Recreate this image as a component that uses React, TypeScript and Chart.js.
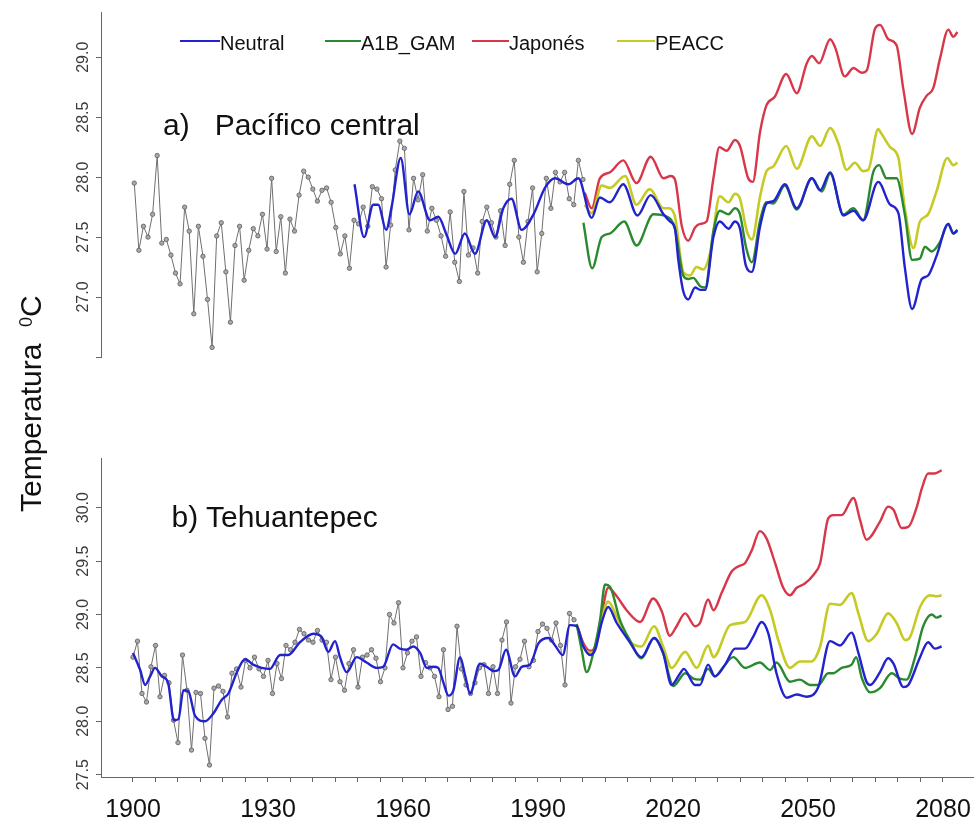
import React, { useEffect, useRef } from "react";
import { Chart, registerables } from "chart.js";

Chart.register(...registerables);

const FONT = '"Liberation Sans", Arial, Helvetica, sans-serif';

// ---------- data ----------
const OBS_FIRST_YEAR = 1900;

// a) Pacífico central – observed annual values 1900..1998
const OBS_A = [
  27.95, 27.39, 27.59, 27.5, 27.69, 28.18, 27.45, 27.48, 27.35, 27.2,
  27.11, 27.75, 27.55, 26.86, 27.59, 27.34, 26.98, 26.58, 27.51, 27.62,
  27.21, 26.79, 27.43, 27.59, 27.14, 27.39, 27.57, 27.51, 27.69, 27.4,
  27.99, 27.38, 27.67, 27.2, 27.65, 27.55, 27.85, 28.05, 28.0, 27.9,
  27.8, 27.89, 27.91, 27.79, 27.58, 27.36, 27.51, 27.24, 27.64, 27.61,
  27.75, 27.59, 27.92, 27.9, 27.82, 27.25, 27.6, 28.06, 28.3, 28.24,
  27.56, 27.99, 27.81, 28.02, 27.55, 27.74, 27.64, 27.51, 27.34, 27.71,
  27.29, 27.13, 27.88, 27.35, 27.41, 27.2, 27.63, 27.75, 27.62, 27.5,
  27.72, 27.43, 27.94, 28.14, 27.5, 27.29, 27.63, 27.91, 27.21, 27.53,
  27.99, 27.74, 28.04, 27.96, 28.04, 27.82, 27.77, 28.14, 27.98,
];

const NEUTRAL_A: [number, number][] = [
  [1948.1, 27.94], [1950.2, 27.5], [1952.2, 27.77], [1953.3, 27.77], [1955.0, 27.56],
  [1956.2, 27.75], [1958.2, 28.16], [1960.1, 27.69], [1962.0, 27.88], [1964.6, 27.64],
  [1966.4, 27.67], [1968.2, 27.52], [1970.1, 27.36], [1972.2, 27.53], [1974.4, 27.36],
  [1977.0, 27.64], [1978.8, 27.5], [1980.6, 27.74], [1982.4, 27.82], [1984.6, 27.56],
  [1987.2, 27.69], [1989.7, 27.91], [1991.9, 27.99], [1994.8, 27.94], [1997.0, 27.99],
  [1999.9, 27.66], [2001.7, 27.83], [2003.9, 27.79], [2006.8, 27.94], [2009.9, 27.68],
  [2012.8, 27.85], [2015.6, 27.69], [2017.0, 27.63], [2018.1, 27.57], [2018.8, 27.32],
  [2019.9, 27.05], [2021.0, 26.98], [2022.5, 27.08], [2023.6, 27.06], [2024.7, 27.06],
  [2026.5, 27.5], [2027.9, 27.63], [2029.8, 27.57], [2031.2, 27.63], [2032.3, 27.57],
  [2033.6, 27.26], [2034.9, 27.21], [2036.7, 27.59], [2038.1, 27.78], [2039.6, 27.8],
  [2042.1, 27.94], [2044.7, 27.74], [2048.0, 27.99], [2049.8, 27.89], [2052.0, 28.04],
  [2054.9, 27.68], [2057.1, 27.72], [2059.2, 27.64], [2062.5, 27.96], [2065.1, 27.77],
  [2066.9, 27.7], [2068.3, 27.25], [2069.9, 26.9], [2072.0, 27.15], [2073.4, 27.18],
  [2075.3, 27.35], [2077.8, 27.61], [2078.9, 27.53], [2079.8, 27.56],
];

const A1B_A: [number, number][] = [
  [1998.1, 27.62], [2000.0, 27.24], [2002.1, 27.5], [2003.9, 27.53], [2007.0, 27.63],
  [2009.7, 27.43], [2013.4, 27.69], [2016.4, 27.67], [2018.1, 27.57], [2019.9, 27.18],
  [2021.0, 27.15], [2022.1, 27.16], [2023.6, 27.09], [2024.7, 27.08], [2026.5, 27.55],
  [2027.9, 27.72], [2029.8, 27.69], [2031.2, 27.74], [2032.3, 27.69], [2033.6, 27.42],
  [2034.9, 27.29], [2036.7, 27.64], [2038.1, 27.79], [2039.6, 27.78], [2042.1, 27.93],
  [2044.7, 27.73], [2048.0, 27.99], [2050.2, 27.88], [2052.0, 28.03], [2054.9, 27.69],
  [2057.1, 27.74], [2059.2, 27.64], [2061.4, 28.04], [2062.7, 28.1], [2064.3, 27.99],
  [2066.5, 27.99], [2068.3, 27.69], [2069.9, 27.31], [2071.6, 27.32], [2072.7, 27.42],
  [2074.2, 27.38], [2076.0, 27.46], [2077.8, 27.61], [2078.9, 27.53], [2079.8, 27.55],
];

const JAPONES_A: [number, number][] = [
  [1998.4, 27.87], [1999.9, 27.74], [2001.7, 27.99], [2003.9, 28.04], [2006.8, 28.14],
  [2009.7, 27.95], [2012.8, 28.17], [2015.6, 27.99], [2017.2, 28.01], [2018.1, 27.98],
  [2019.6, 27.59], [2021.0, 27.47], [2022.5, 27.58], [2023.6, 27.61], [2025.0, 27.63],
  [2026.5, 27.99], [2027.8, 28.25], [2029.4, 28.22], [2031.2, 28.31], [2032.3, 28.26],
  [2034.1, 27.99], [2035.1, 27.96], [2036.7, 28.38], [2038.1, 28.6], [2039.9, 28.67],
  [2042.4, 28.86], [2044.7, 28.7], [2046.9, 28.95], [2048.0, 29.01], [2049.6, 28.95],
  [2052.0, 29.15], [2053.1, 29.08], [2055.2, 28.84], [2057.1, 28.91], [2058.9, 28.87],
  [2060.0, 28.89], [2061.8, 29.24], [2062.9, 29.27], [2064.7, 29.15], [2066.5, 29.1],
  [2068.0, 28.73], [2069.9, 28.36], [2071.6, 28.58], [2073.1, 28.68], [2074.5, 28.74],
  [2076.0, 28.99], [2077.8, 29.23], [2078.9, 29.17], [2079.8, 29.21],
];

const PEACC_A: [number, number][] = [
  [1998.4, 27.77], [1999.9, 27.7], [2002.1, 27.93], [2003.9, 27.91], [2007.2, 28.01],
  [2009.7, 27.77], [2012.6, 27.9], [2015.6, 27.74], [2016.6, 27.74], [2018.1, 27.67],
  [2019.9, 27.21], [2021.4, 27.18], [2022.8, 27.25], [2024.3, 27.23], [2025.8, 27.37],
  [2027.9, 27.84], [2029.8, 27.79], [2031.2, 27.86], [2032.3, 27.82], [2033.8, 27.55],
  [2034.9, 27.48], [2036.7, 27.84], [2038.1, 28.05], [2039.6, 28.09], [2042.4, 28.26],
  [2044.7, 28.07], [2048.0, 28.34], [2049.8, 28.26], [2052.0, 28.41], [2053.8, 28.28],
  [2055.6, 28.06], [2057.4, 28.12], [2059.2, 28.05], [2060.3, 28.06], [2062.5, 28.4],
  [2062.9, 28.38], [2065.1, 28.25], [2066.9, 28.16], [2068.3, 27.74], [2070.2, 27.41],
  [2071.6, 27.63], [2073.4, 27.69], [2075.3, 27.89], [2077.6, 28.16], [2078.9, 28.1],
  [2079.8, 28.12],
];

// b) Tehuantepec – observed annual values 1900..1998
const OBS_B = [
  28.6, 28.75, 28.26, 28.18, 28.51, 28.71, 28.23, 28.43, 28.36, 28.01,
  27.8, 28.62, 28.29, 27.73, 28.27, 28.26, 27.84, 27.59, 28.31, 28.33,
  28.28, 28.04, 28.45, 28.49, 28.32, 28.57, 28.5, 28.6, 28.49, 28.42,
  28.57, 28.26, 28.54, 28.4, 28.71, 28.67, 28.74, 28.86, 28.82, 28.76,
  28.74, 28.85, 28.76, 28.74, 28.39, 28.6, 28.37, 28.29, 28.54, 28.67,
  28.32, 28.6, 28.62, 28.67, 28.59, 28.37, 28.5, 29.0, 28.92, 29.11,
  28.5, 28.64, 28.75, 28.79, 28.42, 28.55, 28.5, 28.42, 28.23, 28.67,
  28.11, 28.14, 28.89, 28.49, 28.34, 28.26, 28.36, 28.5, 28.53, 28.26,
  28.51, 28.26, 28.76, 28.93, 28.17, 28.51, 28.58, 28.75, 28.51, 28.57,
  28.84, 28.91, 28.87, 28.76, 28.92, 28.71, 28.34, 29.01, 28.95,
];

const NEUTRAL_B: [number, number][] = [
  [1900.0, 28.64], [1901.6, 28.48], [1902.7, 28.34], [1903.8, 28.42], [1904.9, 28.5],
  [1906.4, 28.42], [1907.8, 28.36], [1909.1, 28.01], [1910.1, 28.02], [1911.2, 28.29],
  [1912.3, 28.28], [1913.8, 28.05], [1916.0, 28.0], [1917.8, 28.07], [1919.7, 28.2],
  [1921.2, 28.26], [1923.0, 28.45], [1924.9, 28.58], [1926.7, 28.53], [1928.6, 28.5],
  [1930.4, 28.49], [1932.7, 28.62], [1934.5, 28.62], [1937.1, 28.74], [1940.1, 28.82],
  [1941.9, 28.79], [1943.4, 28.65], [1944.9, 28.75], [1946.0, 28.6], [1947.5, 28.46],
  [1949.7, 28.6], [1951.9, 28.55], [1954.2, 28.5], [1955.6, 28.51], [1957.8, 28.72],
  [1959.3, 28.68], [1960.8, 28.67], [1962.3, 28.7], [1963.8, 28.64], [1965.3, 28.5],
  [1966.7, 28.51], [1967.8, 28.5], [1969.0, 28.36], [1970.1, 28.24], [1971.2, 28.29],
  [1972.7, 28.6], [1973.8, 28.43], [1974.9, 28.26], [1977.1, 28.54], [1978.6, 28.51],
  [1980.1, 28.47], [1981.2, 28.48], [1982.9, 28.67], [1984.9, 28.42], [1986.4, 28.51],
  [1988.2, 28.53], [1990.1, 28.73], [1992.3, 28.78], [1993.8, 28.71], [1995.5, 28.62],
  [1997.1, 28.9], [1998.6, 28.89], [2000.1, 28.7], [2001.6, 28.62], [2002.7, 28.67],
  [2004.2, 28.93], [2005.6, 29.07], [2007.5, 28.92], [2010.1, 28.76], [2013.0, 28.6],
  [2015.8, 28.78], [2017.8, 28.64], [2019.7, 28.34], [2021.6, 28.45], [2022.4, 28.49],
  [2024.9, 28.34], [2026.0, 28.34], [2027.8, 28.53], [2029.3, 28.42], [2031.6, 28.53],
  [2033.8, 28.68], [2036.0, 28.68], [2037.8, 28.79], [2039.7, 28.93], [2041.2, 28.82],
  [2043.0, 28.45], [2045.3, 28.22], [2047.5, 28.25], [2049.7, 28.23], [2052.3, 28.32],
  [2054.9, 28.75], [2057.1, 28.71], [2059.7, 28.83], [2061.2, 28.64], [2063.0, 28.37],
  [2063.8, 28.34], [2066.0, 28.46], [2067.8, 28.59], [2069.0, 28.54], [2071.2, 28.32],
  [2072.3, 28.34], [2074.9, 28.6], [2076.7, 28.74], [2078.2, 28.68], [2079.7, 28.7],
];

const A1B_B: [number, number][] = [
  [1998.6, 28.91], [1999.7, 28.67], [2000.8, 28.46], [2002.3, 28.64], [2003.8, 28.95],
  [2004.9, 29.28], [2006.0, 29.26], [2008.2, 28.95], [2010.4, 28.76], [2013.0, 28.59],
  [2015.8, 28.78], [2017.8, 28.64], [2020.1, 28.33], [2022.7, 28.45], [2024.5, 28.4],
  [2026.0, 28.39], [2027.8, 28.49], [2029.3, 28.42], [2031.2, 28.51], [2033.4, 28.6],
  [2036.0, 28.5], [2039.3, 28.55], [2041.6, 28.48], [2043.0, 28.55], [2046.0, 28.37],
  [2048.2, 28.39], [2050.4, 28.34], [2052.3, 28.34], [2054.5, 28.45], [2055.6, 28.45],
  [2057.5, 28.5], [2059.7, 28.53], [2060.7, 28.6], [2062.0, 28.4], [2063.8, 28.27],
  [2066.0, 28.31], [2068.6, 28.45], [2070.4, 28.4], [2071.9, 28.39], [2073.8, 28.6],
  [2075.6, 28.89], [2077.5, 29.0], [2078.6, 28.97], [2079.7, 28.99],
];

const JAPONES_B: [number, number][] = [
  [1998.6, 28.91], [2000.1, 28.73], [2001.6, 28.66], [2002.7, 28.7], [2004.2, 29.01],
  [2005.6, 29.25], [2007.5, 29.17], [2009.7, 29.04], [2012.7, 28.93], [2015.6, 29.15],
  [2017.5, 29.03], [2019.3, 28.8], [2020.8, 28.89], [2022.7, 29.01], [2024.9, 28.89],
  [2026.0, 28.92], [2027.8, 29.14], [2029.0, 29.04], [2030.8, 29.2], [2033.0, 29.4],
  [2034.5, 29.45], [2036.0, 29.48], [2037.5, 29.6], [2039.3, 29.78], [2040.8, 29.71],
  [2042.7, 29.48], [2044.5, 29.25], [2046.0, 29.18], [2047.5, 29.25], [2049.3, 29.29],
  [2051.2, 29.37], [2052.7, 29.48], [2054.5, 29.9], [2055.6, 29.93], [2057.5, 29.93],
  [2060.1, 30.09], [2061.6, 29.88], [2063.0, 29.7], [2066.0, 29.87], [2067.8, 30.01],
  [2069.0, 29.98], [2070.8, 29.81], [2072.3, 29.82], [2074.2, 30.01], [2075.3, 30.18],
  [2076.7, 30.32], [2078.2, 30.32], [2079.7, 30.35],
];

const PEACC_B: [number, number][] = [
  [1998.6, 28.9], [2000.1, 28.7], [2001.6, 28.64], [2002.7, 28.67], [2004.2, 28.96],
  [2005.6, 29.12], [2007.5, 28.98], [2010.1, 28.76], [2013.0, 28.7], [2015.8, 28.89],
  [2017.8, 28.7], [2019.7, 28.5], [2022.7, 28.65], [2025.3, 28.5], [2027.8, 28.71],
  [2029.0, 28.6], [2032.7, 28.9], [2036.0, 28.93], [2039.7, 29.18], [2041.6, 29.04],
  [2043.4, 28.76], [2046.0, 28.5], [2048.2, 28.56], [2050.8, 28.56], [2052.7, 28.7],
  [2054.9, 29.1], [2057.1, 29.09], [2059.7, 29.2], [2061.2, 29.01], [2063.4, 28.75],
  [2065.3, 28.82], [2067.8, 29.01], [2069.7, 28.92], [2071.6, 28.76], [2072.7, 28.79],
  [2074.9, 29.07], [2077.1, 29.18], [2078.6, 29.17], [2079.7, 29.18],
];

const SERIES_NAMES = ["Neutral", "A1B_GAM", "Japonés", "PEACC"];
const SERIES_COLORS = ["#2222cf", "#2b8a2f", "#d8374a", "#c6ca25"];

const Y_TICKS_A = [26.5, 27.0, 27.5, 28.0, 28.5, 29.0];
const Y_UNLABELLED_A = [26.5];
const Y_TICKS_B = [27.5, 28.0, 28.5, 29.0, 29.5, 30.0];
const X_LABEL_YEARS = [1900, 1930, 1960, 1990, 2020, 2050, 2080];
const X_MINOR_STEP = 5;

const PANEL_TITLES = ["a)   Pacífico central", "b) Tehuantepec"];
const AXIS_TITLE = "Temperatura";
const AXIS_UNIT_SUP = "0";
const AXIS_UNIT = "C";

// ---------- chart building ----------
type Pairs = [number, number][];
interface PanelDef {
  obs: number[];
  neutral: Pairs;
  a1b: Pairs;
  jap: Pairs;
  peacc: Pairs;
  xMin: number;
  xMax: number;
  yMin: number;
  yMax: number;
  yTicks: number[];
  yUnlabelled: number[];
  showX: boolean;
  padding: { left: number; right: number; top: number; bottom: number };
}

function makeConfig(p: PanelDef): any {
  const toXY = (arr: Pairs) => arr.map(([x, y]) => ({ x, y }));
  const smooth = (data: any[], color: string, width: number) => ({
    data,
    borderColor: color,
    backgroundColor: color,
    borderWidth: width,
    pointRadius: 0,
    cubicInterpolationMode: "monotone",
    fill: false,
  });
  const obs = p.obs.map((v, i) => ({ x: OBS_FIRST_YEAR + i, y: v }));
  return {
    type: "line",
    data: {
      datasets: [
        { label: SERIES_NAMES[0], ...smooth(toXY(p.neutral), SERIES_COLORS[0], 2.4) },
        { label: SERIES_NAMES[1], ...smooth(toXY(p.a1b), SERIES_COLORS[1], 2.4) },
        { label: SERIES_NAMES[3], ...smooth(toXY(p.peacc), SERIES_COLORS[3], 2.6) },
        { label: SERIES_NAMES[2], ...smooth(toXY(p.jap), SERIES_COLORS[2], 2.4) },
        {
          label: "Observado",
          data: obs,
          borderColor: "#6f6f6f",
          borderWidth: 1,
          tension: 0,
          pointRadius: 2.2,
          pointBackgroundColor: "#a9a9a9",
          pointBorderColor: "#5c5c5c",
          pointBorderWidth: 0.8,
          fill: false,
        },
      ],
    },
    options: {
      responsive: false,
      animation: false,
      events: [],
      layout: { padding: p.padding },
      plugins: { legend: { display: false }, tooltip: { enabled: false }, title: { display: false } },
      scales: {
        x: {
          type: "linear",
          min: p.xMin,
          max: p.xMax,
          display: p.showX,
          afterBuildTicks: (s: any) => {
            const t: any[] = [];
            const first = X_LABEL_YEARS[0];
            const last = X_LABEL_YEARS[X_LABEL_YEARS.length - 1];
            for (let v = first; v <= last; v += X_MINOR_STEP) t.push({ value: v });
            s.ticks = t;
          },
          afterFit: (s: any) => {
            s.height = 45;
          },
          ticks: {
            autoSkip: false,
            minRotation: 0,
            maxRotation: 0,
            padding: 13,
            color: "#111",
            font: { family: FONT, size: 25 },
            callback: (v: any) => (X_LABEL_YEARS.includes(Number(v)) ? String(v) : ""),
          },
          grid: { drawOnChartArea: false, drawTicks: true, tickLength: 5, color: "#666", lineWidth: 1 },
          border: { display: true, color: "#666", width: 1 },
        },
        y: {
          type: "linear",
          min: p.yMin,
          max: p.yMax,
          afterBuildTicks: (s: any) => {
            s.ticks = p.yTicks.map((v) => ({ value: v }));
          },
          afterFit: (s: any) => {
            s.width = 60;
          },
          ticks: {
            autoSkip: false,
            minRotation: 90,
            maxRotation: 90,
            crossAlign: "center",
            padding: -3.5,
            color: "#3a3a3a",
            font: { family: FONT, size: 16 },
            callback: (v: any) => (p.yUnlabelled.includes(Number(v)) ? "" : Number(v).toFixed(1)),
          },
          grid: { drawOnChartArea: false, drawTicks: true, tickLength: 5, color: "#666", lineWidth: 1 },
          border: { display: true, color: "#666", width: 1 },
        },
      },
    },
  };
}

const PANEL_A: PanelDef = {
  obs: OBS_A,
  neutral: NEUTRAL_A,
  a1b: A1B_A,
  jap: JAPONES_A,
  peacc: PEACC_A,
  xMin: 1892.73,
  xMax: 2083.2,
  yMin: 26.5,
  yMax: 29.377,
  yTicks: Y_TICKS_A,
  yUnlabelled: Y_UNLABELLED_A,
  showX: false,
  padding: { left: 41, right: 17, top: 12, bottom: 13 },
};

const PANEL_B: PanelDef = {
  obs: OBS_B,
  neutral: NEUTRAL_B,
  a1b: A1B_B,
  jap: JAPONES_B,
  peacc: PEACC_B,
  xMin: 1892.89,
  xMax: 2086.67,
  yMin: 27.478,
  yMax: 30.465,
  yTicks: Y_TICKS_B,
  yUnlabelled: [],
  showX: true,
  padding: { left: 41, right: 17, top: 38, bottom: 0 },
};

const LEGEND_LAYOUT = [
  { line: 180, lineW: 40, text: 220 },
  { line: 325, lineW: 36, text: 361 },
  { line: 472, lineW: 37, text: 509 },
  { line: 617, lineW: 38, text: 655 },
];

export default function App() {
  const topRef = useRef<HTMLCanvasElement | null>(null);
  const botRef = useRef<HTMLCanvasElement | null>(null);

  useEffect(() => {
    const charts: Chart[] = [];
    if (topRef.current) charts.push(new Chart(topRef.current, makeConfig(PANEL_A)));
    if (botRef.current) charts.push(new Chart(botRef.current, makeConfig(PANEL_B)));
    return () => charts.forEach((c) => c.destroy());
  }, []);

  const textBase: React.CSSProperties = {
    position: "absolute",
    whiteSpace: "pre",
    fontFamily: FONT,
    color: "#111",
  };

  return (
    <div
      style={{
        position: "fixed",
        left: 0,
        top: 0,
        width: 978,
        height: 822,
        overflow: "hidden",
        background: "#fff",
      }}
    >
      <canvas ref={topRef} width={990} height={415} style={{ position: "absolute", left: 0, top: 0 }} />
      <canvas ref={botRef} width={990} height={402} style={{ position: "absolute", left: 0, top: 420 }} />

      {SERIES_NAMES.map((name, i) => (
        <React.Fragment key={name}>
          <div
            style={{
              position: "absolute",
              left: LEGEND_LAYOUT[i].line,
              top: 39.5,
              width: LEGEND_LAYOUT[i].lineW,
              height: 2.5,
              background: SERIES_COLORS[i],
            }}
          />
          <div style={{ ...textBase, left: LEGEND_LAYOUT[i].text, top: 33, fontSize: 20, lineHeight: "20px" }}>
            {name}
          </div>
        </React.Fragment>
      ))}

      <div style={{ ...textBase, left: 163, top: 109.5, fontSize: 30, lineHeight: "30px" }}>{PANEL_TITLES[0]}</div>
      <div style={{ ...textBase, left: 171.5, top: 501.5, fontSize: 30, lineHeight: "30px" }}>{PANEL_TITLES[1]}</div>

      <div
        style={{
          ...textBase,
          left: 11,
          top: 512,
          fontSize: 30,
          lineHeight: "30px",
          transformOrigin: "left top",
          transform: "rotate(-90deg)",
        }}
      >
        {AXIS_TITLE + "  "}
        <span style={{ fontSize: 18, verticalAlign: "9px" }}>{AXIS_UNIT_SUP}</span>
        {AXIS_UNIT}
      </div>
    </div>
  );
}
